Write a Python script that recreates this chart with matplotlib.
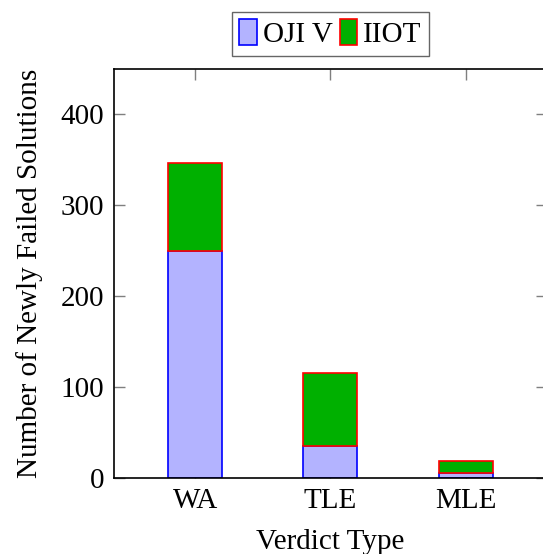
import numpy as np
import matplotlib.pyplot as plt

plt.rcParams['font.family'] = ['Liberation Serif', 'DejaVu Serif']

verdicts = ["WA", "TLE", "MLE"]
oji_v = [250, 35, 6]
iiot = [96, 81, 13]

fig = plt.figure(figsize=(5.43, 5.54), dpi=100)
ax = fig.add_axes([0.21, 0.137, 0.797, 0.739])

x = np.arange(len(verdicts))
ax.bar(x, oji_v, width=0.4, color="#b3b3ff", edgecolor="#0000ff",
       linewidth=1.2, label="OJI V")
ax.bar(x, iiot, width=0.4, bottom=oji_v, color="#00b000",
       edgecolor="#ff0000", linewidth=1.2, label="IIOT")

ax.set_xlim(-0.6, 2.6)
ax.set_ylim(0, 450)
ax.set_xticks(x)
ax.set_xticklabels(verdicts)
ax.set_yticks([0, 100, 200, 300, 400])
ax.set_axisbelow(True)
ax.tick_params(direction="in", length=8, width=1, color="#7f7f7f",
               top=True, right=True, labelsize=21, pad=7)

for s in ax.spines.values():
    s.set_linewidth(1.2)
    s.set_color("black")

ax.set_xlabel("Verdict Type", fontsize=21, labelpad=11)
ax.set_ylabel("Number of Newly Failed Solutions", fontsize=21, labelpad=13)

leg = ax.legend(loc="lower center", bbox_to_anchor=(0.5, 1.0), ncol=2,
                fontsize=21, frameon=True, fancybox=False,
                handlelength=0.6, handleheight=1.0, handletextpad=0.2,
                columnspacing=0.25, borderpad=0.25, borderaxespad=0.45)
leg.get_frame().set_edgecolor("#404040")
leg.get_frame().set_linewidth(1.0)

plt.savefig("out.png", dpi=100)
plt.close()
